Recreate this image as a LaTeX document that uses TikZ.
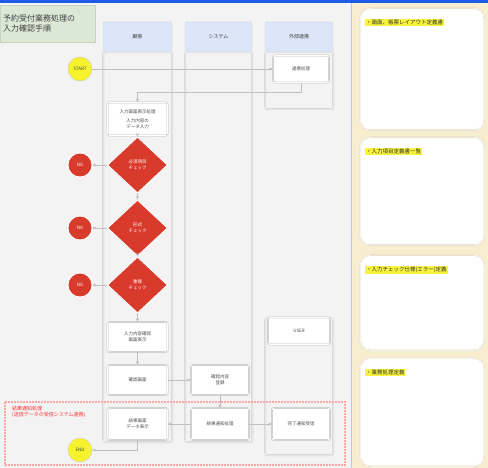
\documentclass[tikz,border=0pt]{standalone}
\usepackage{fontspec}
\setmainfont{Noto Sans CJK JP}
\usetikzlibrary{shapes.geometric,arrows.meta,positioning}
\definecolor{bgGray}{HTML}{F3F3F3}
\definecolor{panelTan}{HTML}{F7EDCF}
\definecolor{headBlue}{HTML}{DCE6F8}
\definecolor{titleGreen}{HTML}{DAE8D5}
\definecolor{checkRed}{HTML}{D83A2B}
\definecolor{termYellow}{HTML}{F7F22E}
\definecolor{markYellow}{HTML}{F8F43C}
\definecolor{winBlue}{HTML}{1E5BE6}

\begin{document}
\begin{tikzpicture}[
    x=1pt, y=-1pt,
    font=\fontsize{4.5}{5.5}\selectfont,
    lane/.style={draw=gray!45, double=gray!6, double distance=0.8pt, rounded corners=2pt, anchor=north west, inner sep=0pt},
    lanehead/.style={fill=headBlue, draw=headBlue!80!gray, rounded corners=2pt, minimum width=69, minimum height=30, text=gray!50!black, font=\fontsize{5}{6}\selectfont},
    proc/.style={draw=gray!55, double=white, double distance=0.8pt, fill=white, rounded corners=2pt, minimum width=60, minimum height=30, align=center, text=gray!60!black, inner sep=1pt},
    check/.style={diamond, fill=checkRed, draw=white, line width=0.8pt, minimum width=60, minimum height=56, inner sep=0pt, align=center, text=white},
    ngmark/.style={circle, fill=checkRed, draw=white, line width=0.8pt, minimum size=24, inner sep=0pt, text=white},
    term/.style={circle, fill=termYellow, draw=gray!40, minimum size=24, inner sep=0pt, text=gray!60!black},
    note/.style={draw=panelTan!80!gray, double=white, double distance=0.6pt, fill=white, rounded corners=10pt, minimum width=124, anchor=north west, inner sep=0pt},
    hilite/.style={fill=markYellow, anchor=north west, inner sep=0.8pt, text=black!80, font=\fontsize{5.5}{6.5}\selectfont},
    flow/.style={draw=gray!50, line width=0.9pt, -{Stealth[length=3.5pt, width=3pt, fill=gray!80!black]}},
    >=Stealth
]
\useasboundingbox (0,0) rectangle (488,468);

% Background
\fill[bgGray] (0,0) rectangle (352,468);
\fill[panelTan] (352,0) rectangle (488,468);
\draw[blue!25, line width=1pt] (351,3) -- (351,468);
\fill[winBlue] (0,0) rectangle (488,3);

% Title
\node[fill=titleGreen, draw=titleGreen!80!gray, anchor=north west, minimum width=95, minimum height=37, inner sep=3pt, align=left, text=gray!50!black, font=\fontsize{8}{10}\selectfont, text width=89] (title) at (0,5) {予約受付業務処理の\\入力確認手順};

% Lanes
\node[lane, minimum width=69, minimum height=390] (laneA) at (103,52) {};
\node[lane, minimum width=67, minimum height=390] (laneB) at (185,52) {};
\node[lane, minimum width=68, minimum height=57] (laneC) at (265,52) {};
\node[lane, minimum width=68, minimum height=137] (laneD) at (265,318) {};

% Lane headers
\node[lanehead] (headA) at (137.5,37) {顧客};
\node[lanehead, minimum width=67] (headB) at (218.5,37) {システム};
\node[lanehead, minimum width=68] (headC) at (299,37) {外部連携};

% Exception region
\draw[red!35, line width=1.6pt, dash pattern=on 1.6pt off 1.4pt] (5,402) rectangle (345,465);
\node[anchor=north west, align=left, text=red!80, inner sep=0pt, font=\fontsize{5}{6}\selectfont] (errtext) at (12,406) {結果通知処理\\(送信データの受信システム連携)};

% Steps
\node[term] (start) at (80,69) {START};
\node[proc, minimum width=56, minimum height=27] (link) at (301,69) {連携処理};
\node[proc, minimum height=33] (input) at (137.5,119) {入力画面表示処理\\[4pt]入力内容の\\データ入力};
\node[check] (chk1) at (137.5,165) {必須項目\\チェック};
\node[check] (chk2) at (137.5,228) {形式\\チェック};
\node[check] (chk3) at (137.5,285) {重複\\チェック};
\node[ngmark] (ng1) at (80,165) {NG};
\node[ngmark] (ng2) at (80,228) {NG};
\node[ngmark] (ng3) at (80,285) {NG};
\node[proc] (confirm) at (137.5,337) {入力内容確認\\画面表示};
\node[proc] (review) at (137.5,380) {確認画面};
\node[proc, minimum width=58] (regist) at (220,380) {確認内容\\登録};
\node[proc, minimum width=62, minimum height=27] (user) at (299,331) {USER};
\node[proc, minimum height=32] (result) at (137.5,424) {結果画面\\データ表示};
\node[proc, minimum width=58, minimum height=32] (notify) at (220,424) {結果通知処理};
\node[proc, minimum width=58, minimum height=32] (done) at (301,424) {完了通知受信};
\node[term] (end) at (80,450) {END};

% Connections
\coordinate (turn) at (301,92);
\draw[flow] (start) -- (link);
\draw[flow] (link) -- (turn) -| (input);
\draw[flow] (input) -- (chk1);
\draw[flow] (chk1) -- (chk2);
\draw[flow] (chk2) -- (chk3);
\draw[flow] (chk3) -- (confirm);
\foreach \i in {1,2,3} {
    \draw[flow] (chk\i) -- (ng\i);
}
\draw[flow] (confirm) -- (review);
\draw[flow] (review) -- (regist);
\draw[flow] (regist) -- (notify);
\draw[flow] (notify) -- (result);
\draw[flow] (notify) -- (done);
\draw[flow] (result) |- (end);

% Notes
\node[note, minimum height=122] (note1) at (360,8) {};
\node[note, minimum height=108] (note2) at (360,137) {};
\node[note, minimum height=95] (note3) at (360,255) {};
\node[note, minimum height=108] (note4) at (360,358) {};
\node[hilite] (mark1) at ([shift={(5,11)}]note1.north west) {・画面、帳票レイアウト定義書};
\node[hilite] (mark2) at ([shift={(5,11)}]note2.north west) {・入力項目定義書一覧};
\node[hilite] (mark3) at ([shift={(5,11)}]note3.north west) {・入力チェック仕様(エラー)定義};
\node[hilite] (mark4) at ([shift={(5,11)}]note4.north west) {・業務処理定義};
\end{tikzpicture}
\end{document}
